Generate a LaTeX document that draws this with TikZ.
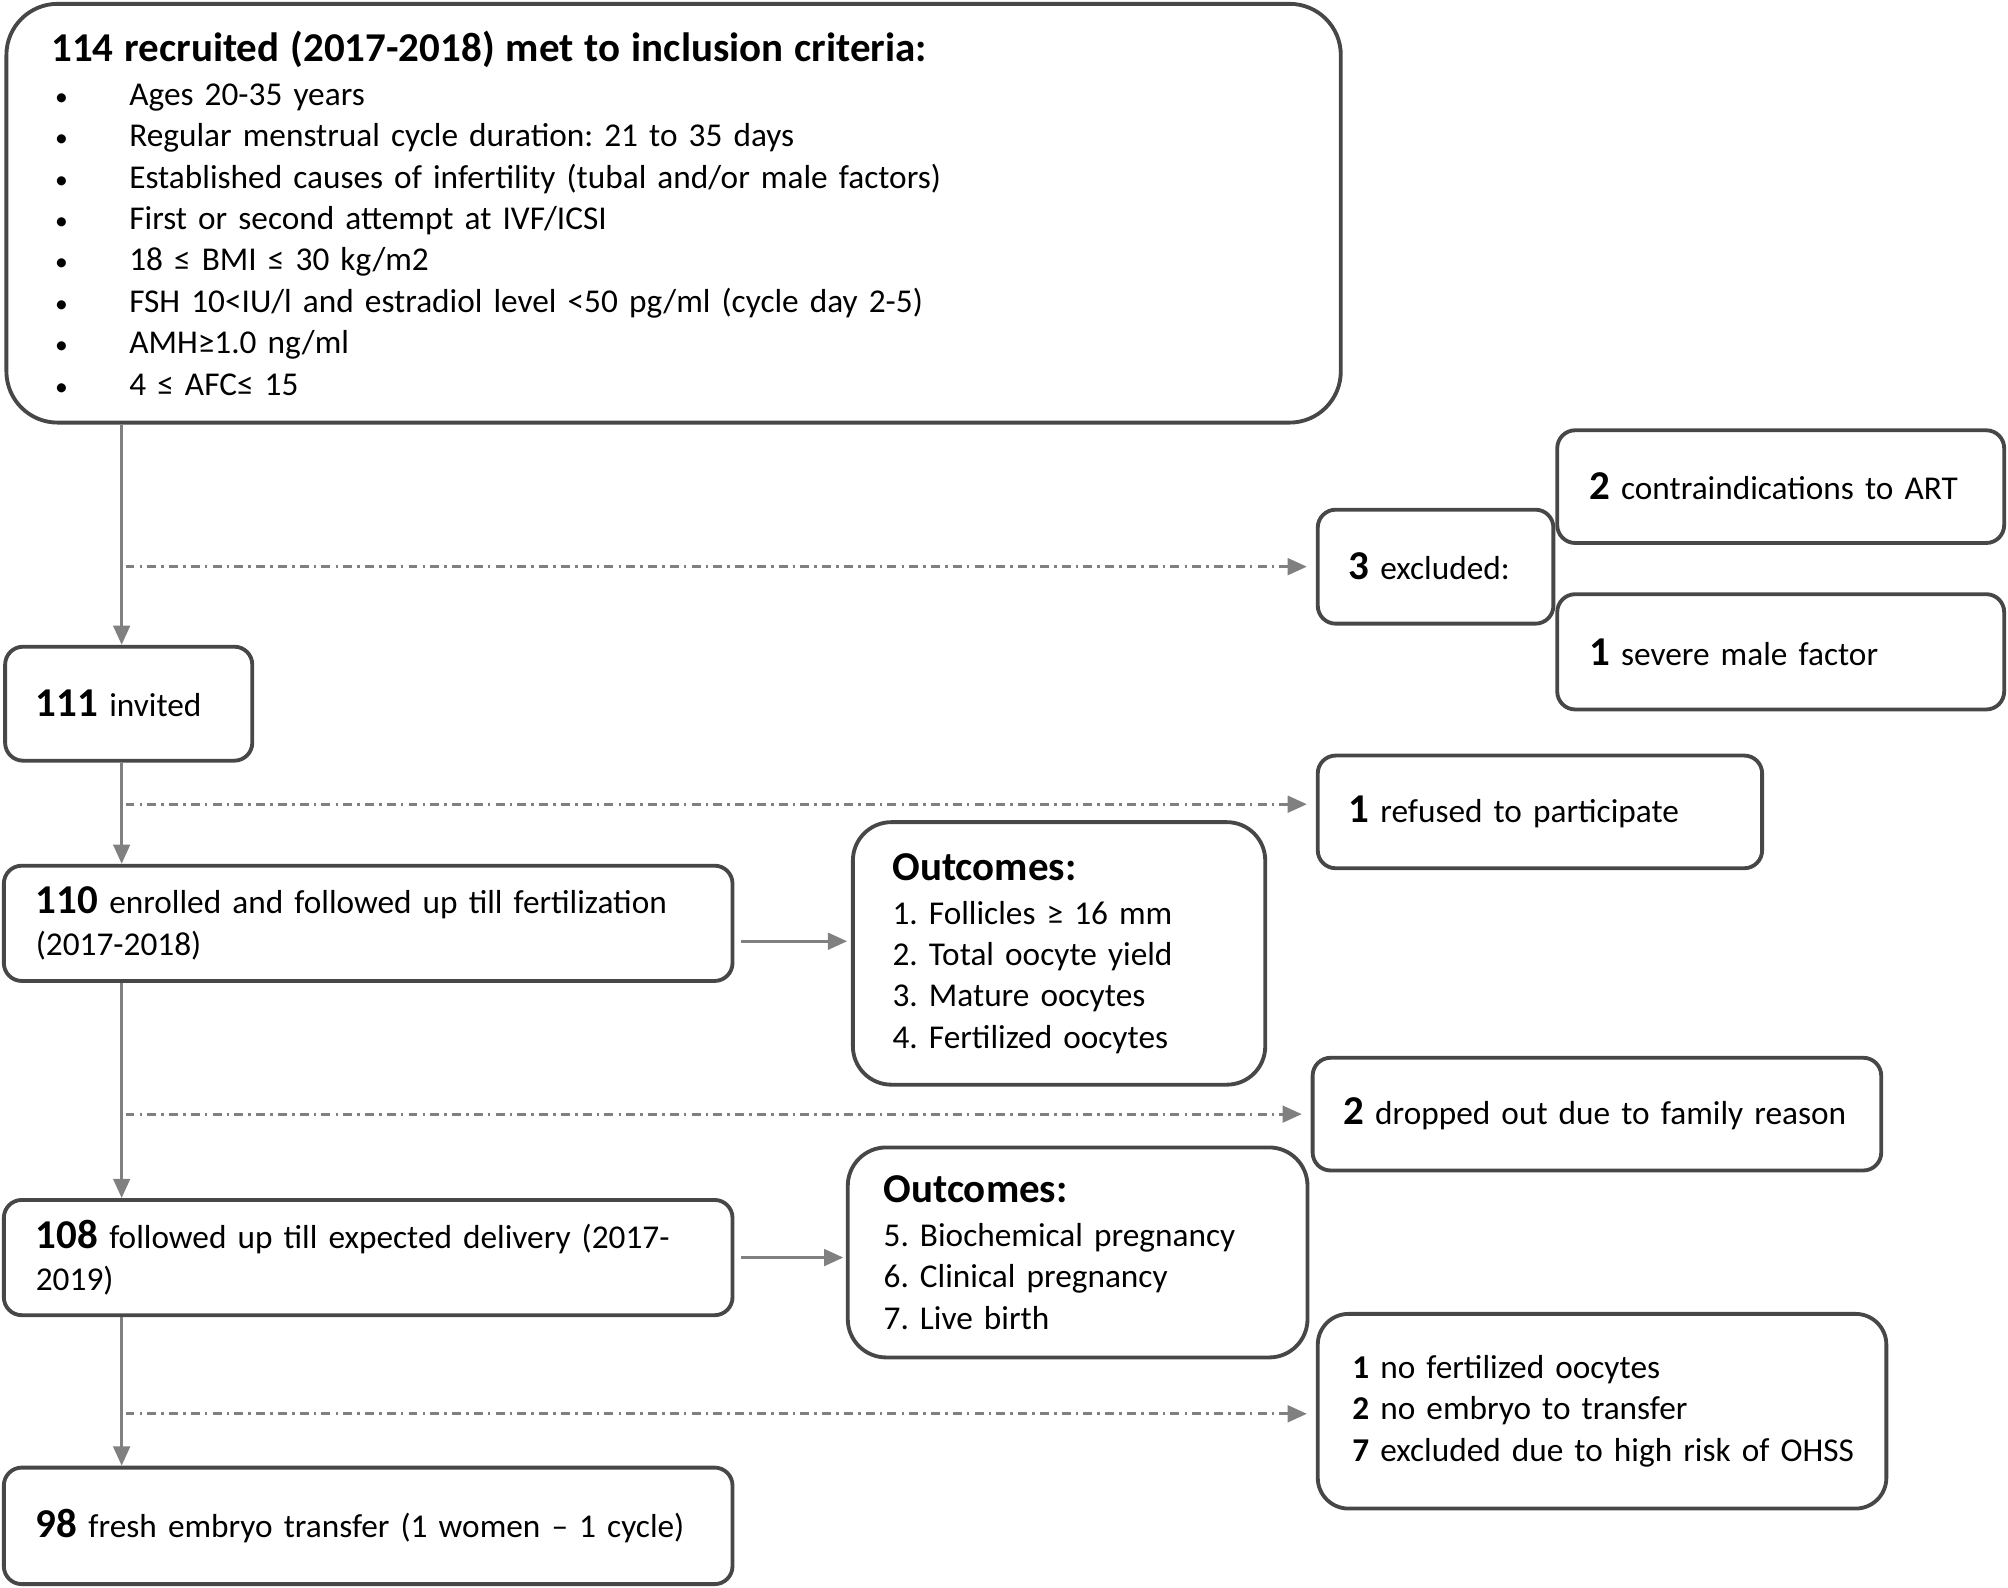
\documentclass[tikz,border=0pt]{standalone}
\usepackage{fontspec}
\setmainfont{Carlito}
\usetikzlibrary{arrows.meta}
\frenchspacing
\newcommand{\cnt}[1]{{\fontsize{16}{16}\selectfont\bfseries #1}}
\newcommand{\crit}[1]{\hspace*{1.5pt}\makebox[29pt][l]{\fontsize{10}{10}\selectfont •}#1}
\newcommand{\headline}[1]{{\fontsize{16}{18}\selectfont\bfseries #1}}

\begin{document}
\begin{tikzpicture}[x=0.5pt,y=-0.5pt,
	box/.style={rectangle,draw=black!72,line width=1.5pt,rounded corners=7pt,align=left,
		inner xsep=12pt,inner ysep=0pt,font=\fontsize{13}{16.15}\selectfont},
	flow/.style={draw=black!50,line width=1.1pt,-{Triangle[length=7.5pt,width=6.5pt]}},
	drop/.style={flow,dash pattern=on 3.5pt off 2pt on 1pt off 2pt,shorten >=3.5pt,shorten <=1.5pt}]
\useasboundingbox (0,0) rectangle (1568,1240);
\coordinate (sp) at (95,0);

% main flow
\node [box,rounded corners=20pt,inner xsep=17.5pt,text width=486pt,minimum height=163.5pt] (n0) at (526,166.5)
	{\headline{114 recruited (2017-2018) met to inclusion criteria:}\\[1pt]
	\crit{Ages 20-35 years}\\
	\crit{Regular menstrual cycle duration: 21 to 35 days}\\
	\crit{Established causes of infertility (tubal and/or male factors)}\\
	\crit{First or second attempt at IVF/ICSI}\\
	\crit{18 ≤ BMI ≤ 30 kg/m2}\\
	\crit{FSH 10<IU/l and estradiol level <50 pg/ml (cycle day 2-5)}\\
	\crit{AMH≥1.0 ng/ml}\\
	\crit{4 ≤ AFC≤ 15}};
\node [box,text width=72.5pt,minimum height=44.5pt] (n1) at (100.5,549.5) {\cnt{111} invited};
\node [box,inner xsep=12.5pt,text width=259.5pt,minimum height=45pt] (n2) at (287.5,721)
	{\cnt{110} enrolled and followed up till fertilization\\(2017-2018)};
\node [box,inner xsep=12.5pt,text width=259.5pt,minimum height=45pt] (n3) at (287.5,982)
	{\cnt{108} followed up till expected delivery (2017-\\2019)};
\node [box,inner xsep=12.5pt,text width=259.5pt,minimum height=45.5pt] (n4) at (287.5,1191.5)
	{\cnt{98} fresh embryo transfer (1 women -- 1 cycle)};

% exclusions
\node [box,text width=68pt,minimum height=44.5pt] (ex) at (1121,442.5) {\cnt{3} excluded:};
\node [box,inner xsep=12.5pt,text width=149.5pt,minimum height=44pt] (ex1) at (1390.5,380) {\cnt{2} contraindications to ART};
\node [box,inner xsep=12.5pt,text width=149.5pt,minimum height=45pt] (ex2) at (1390.5,509) {\cnt{1} severe male factor};
\node [box,text width=149.5pt,minimum height=44pt] (rf) at (1202.5,634) {\cnt{1} refused to participate};
\node [box,text width=198pt,minimum height=44pt] (dr) at (1247,870) {\cnt{2} dropped out due to family reason};
\node [box,rounded corners=12pt,inner xsep=13.5pt,text width=195pt,minimum height=76pt] (nt) at (1251,1102)
	{\textbf{1} no fertilized oocytes\\\textbf{2} no embryo to transfer\\\mbox{\textbf{7} excluded due to high risk of OHSS}};

% outcomes
\node [box,rounded corners=15pt,inner xsep=15.5pt,text width=130pt,minimum height=102.5pt] (o1) at (827,744.5)
	{\headline{Outcomes:}\\[1pt]1. Follicles ≥ 16 mm\\2. Total oocyte yield\\3. Mature oocytes\\4. Fertilized oocytes};
\node [box,rounded corners=15pt,inner xsep=14pt,text width=151.5pt,minimum height=82pt] (o2) at (841.5,978)
	{\headline{Outcomes:}\\[1pt]5. Biochemical pregnancy\\6. Clinical pregnancy\\7. Live birth};

\draw [flow] (n0.south -| sp) -- (n1.north -| sp);
\draw [flow] (n1.south -| sp) -- (n2.north -| sp);
\draw [flow] (n2.south -| sp) -- (n3.north -| sp);
\draw [flow] (n3.south -| sp) -- (n4.north -| sp);

\path ([yshift=3pt]rf.west) coordinate (rfin);
\path ([yshift=-7pt]n2.east) coordinate (n2out);
\path ([yshift=-1pt]nt.west) coordinate (ntin);
\draw [drop] (sp |- ex.west) -- (ex.west);
\draw [drop] (sp |- rfin) -- (rfin);
\draw [drop] (sp |- dr.west) -- (dr.west);
\draw [drop] (sp |- ntin) -- (ntin);

\draw [flow,shorten <=2.5pt,shorten >=1.5pt] (n2out) -- (n2out -| o1.west);
\draw [flow,shorten <=2.5pt,shorten >=1pt] (n3.east) -- (n3.east -| o2.west);
\end{tikzpicture}
\end{document}
